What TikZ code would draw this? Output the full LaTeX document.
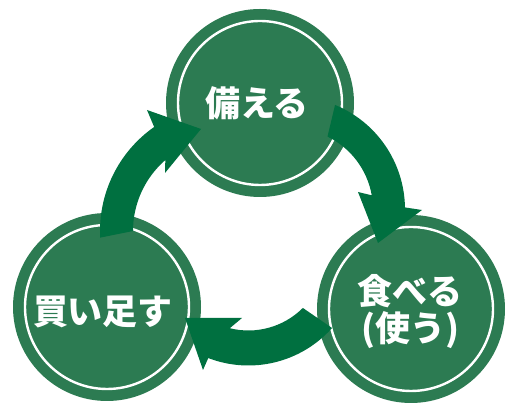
\documentclass[tikz,border=0pt]{standalone}
\usepackage{fontspec}
\newfontfamily\cjk{Noto Sans CJK JP}
\usetikzlibrary{calc}
\definecolor{circfill}{RGB}{44,123,82}
\definecolor{arrowfill}{RGB}{0,112,64}
\begin{document}
\begin{tikzpicture}[x=1pt,y=1pt,
  cyc/.style={circle, fill=circfill, minimum size=188pt, inner sep=0pt},
  ring/.style={draw=white, line width=2.4pt},
  lbl/.style={text=white, font=\cjk\bfseries\fontsize{35}{37}\selectfont, align=center, inner sep=0pt},
  arr/.style={fill=arrowfill}]
\useasboundingbox (0,0) rectangle (512,403);
\node[cyc] (top) at (260,300) {};
\node[cyc] (left) at (107,96) {};
\node[cyc] (right) at (411,94) {};
\foreach \n in {top,left,right} \draw[ring] (\n.center) circle[radius=82pt];
\node[lbl] (t1) at (257,300) {備える};
\node[lbl] (t2) at (103,91) {買い足す};
\node[lbl] (t3) at (410,91) {食べる\\(使う)};
\coordinate (c1) at (227,172);
\coordinate (c2) at (292,193.6);
\coordinate (c3) at (248.4,149.5);
\fill[arr] ($(c1)+(183:127pt)$) arc[start angle=183, end angle=125, radius=127pt]
  -- (147,293) -- (201,274) -- (165,230)
  -- ($(c1)+(131:94pt)$) arc[start angle=131, end angle=180, radius=94pt] -- cycle;
\fill[arr] ($(c2)+(67.6:113pt)$) arc[start angle=67.6, end angle=1, radius=113pt]
  -- (422,193) -- (378,160) -- (358,211)
  -- ($(c2)+(10:81pt)$) arc[start angle=10, end angle=64, radius=81pt] -- cycle;
\fill[arr] ($(c3)+(-41.7:112pt)$) arc[start angle=-41.7, end angle=-111, radius=112pt]
  -- (203,33) -- (185,85) -- (242,85)
  -- ($(c3)+(-104:77pt)$) arc[start angle=-104, end angle=-45, radius=77pt] -- cycle;
\end{tikzpicture}
\end{document}
